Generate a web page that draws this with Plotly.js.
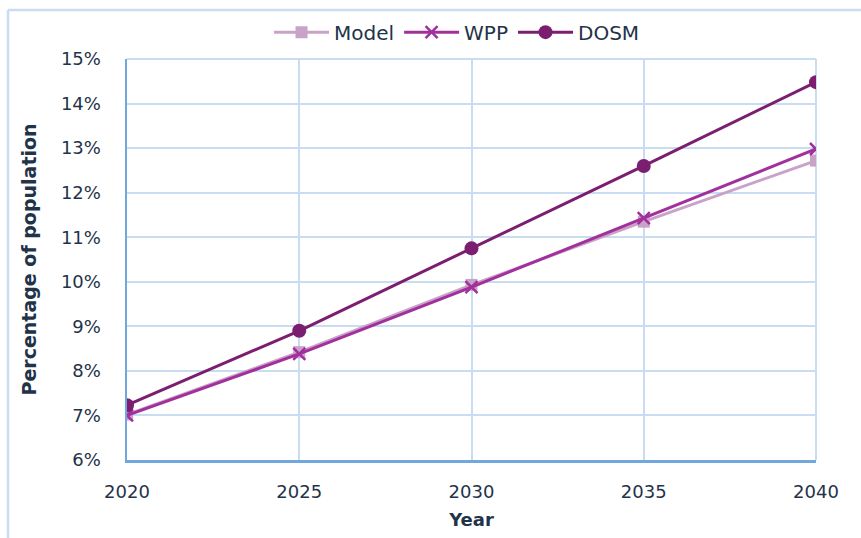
<!DOCTYPE html>
<html>
<head>
<meta charset="utf-8">
<script src="https://cdn.plot.ly/plotly-3.0.1.min.js"></script>
<style>html,body{margin:0;padding:0;background:#fff;}#chart{width:861px;height:538px;}</style>
</head>
<body>
<div id="chart"></div>
<script>
const years = [2020, 2025, 2030, 2035, 2040];
const modelValues = [7.02, 8.42, 9.93, 11.35, 12.72];
const wppValues = [7.0, 8.38, 9.88, 11.43, 12.98];
const dosmValues = [7.23, 8.9, 10.75, 12.6, 14.48];
const yTickVals = [6, 7, 8, 9, 10, 11, 12, 13, 14, 15];
const yTickText = yTickVals.map(v => v + '%');

const textColor = '#1f3349';
const gridColor = '#c9ddf2';
const axisColor = '#72a7de';
const fontFam = 'DejaVu Sans, Open Sans, sans-serif';

const traces = [
  {x: years, y: modelValues, name: 'Model', type: 'scatter', mode: 'lines+markers',
   line: {color: '#c9a2c8', width: 3}, marker: {symbol: 'square', size: 12, color: '#c9a2c8'}},
  {x: years, y: wppValues, name: 'WPP', type: 'scatter', mode: 'lines+markers',
   line: {color: '#a2309c', width: 3}, marker: {symbol: 'x-thin', size: 12, color: '#a2309c', line: {color: '#a2309c', width: 2.5}}},
  {x: years, y: dosmValues, name: 'DOSM', type: 'scatter', mode: 'lines+markers',
   line: {color: '#7c1e70', width: 3}, marker: {symbol: 'circle', size: 14, color: '#7c1e70'}}
];

const layout = {
  width: 861, height: 538,
  margin: {l: 127, r: 45, t: 59, b: 78},
  paper_bgcolor: '#ffffff', plot_bgcolor: '#ffffff',
  font: {family: fontFam, color: textColor, size: 18},
  showlegend: true,
  legend: {orientation: 'h', x: 0.479, xanchor: 'center', y: 1.067, yanchor: 'middle',
           font: {family: fontFam, size: 20, color: textColor}, itemwidth: 55, traceorder: 'normal', bgcolor: 'rgba(0,0,0,0)'},
  xaxis: {
    range: [2020, 2040], tickvals: years, ticktext: years.map(String),
    showgrid: true, gridcolor: gridColor, gridwidth: 2,
    showline: true, linecolor: axisColor, linewidth: 2.5, zeroline: false,
    ticks: '', ticklabelstandoff: 14, tickfont: {family: fontFam, size: 18, color: textColor},
    title: {text: '<b>Year</b>', font: {family: fontFam, size: 18, color: textColor}, standoff: 13}
  },
  yaxis: {
    range: [6, 15], tickvals: yTickVals, ticktext: yTickText,
    showgrid: true, gridcolor: gridColor, gridwidth: 2,
    showline: true, linecolor: axisColor, linewidth: 2.5, zeroline: false,
    ticks: '', ticklabelstandoff: 20, tickfont: {family: fontFam, size: 18, color: textColor},
    title: {text: '<b>Percentage of population</b>', font: {family: fontFam, size: 19, color: textColor}, standoff: 19}
  },
  shapes: [
    {type: 'line', xref: 'paper', yref: 'paper', x0: 0, x1: 1, y0: 1, y1: 1, line: {color: gridColor, width: 2}, layer: 'below'},
    {type: 'line', xref: 'paper', yref: 'paper', x0: 1, x1: 1, y0: 0, y1: 1, line: {color: gridColor, width: 2}, layer: 'below'},
    {type: 'line', xref: 'paper', yref: 'paper', x0: -0.1727, x1: -0.1727, y0: -0.2, y1: 1.122, line: {color: gridColor, width: 2.5}},
    {type: 'line', xref: 'paper', yref: 'paper', x0: -0.1727, x1: 1.07, y0: 1.122, y1: 1.122, line: {color: gridColor, width: 2.5}}
  ]
};

Plotly.newPlot('chart', traces, layout, {displayModeBar: false, staticPlot: true});
</script>
</body>
</html>
